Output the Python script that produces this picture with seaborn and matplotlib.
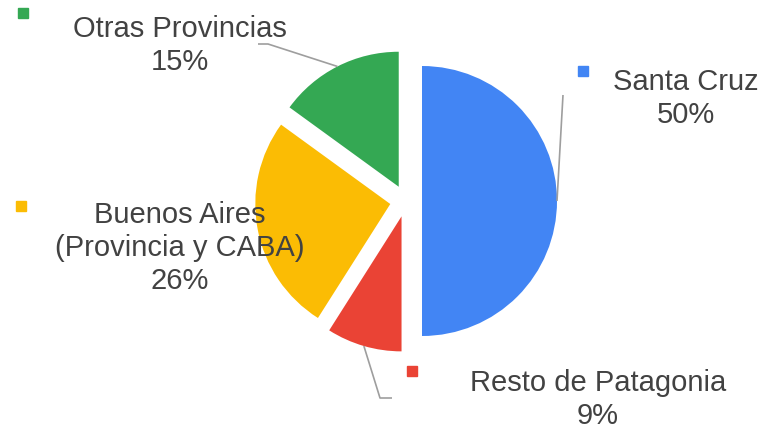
import numpy as np
import matplotlib
matplotlib.use("Agg")
import matplotlib.pyplot as plt
import seaborn as sns

# ---- data ----
categories = ["Santa Cruz", "Resto de Patagonia", "Buenos Aires\n(Provincia y CABA)", "Otras Provincias"]
values = [50, 9, 26, 15]
pct_labels = ["50%", "9%", "26%", "15%"]
colors = ["#4285F4", "#EA4335", "#FBBC04", "#34A853"]

sns.set_theme(style="white")
plt.rcParams["font.family"] = ["Liberation Sans", "DejaVu Sans"]

W, H = 766, 429
fig = plt.figure(figsize=(W / 100, H / 100), dpi=100)
ax = fig.add_axes([0, 0, 1, 1])

def Y(y):  # screen y (down) -> data y (up)
    return H - y

R = 135
GAP = 16
CX, CY = 406, Y(201)
wedges, _ = ax.pie(values, colors=colors, startangle=90, counterclock=False,
                   explode=[GAP] * len(values), radius=R, center=(CX, CY),
                   wedgeprops=dict(linewidth=0), frame=False)
ax.set_xlim(0, W)
ax.set_ylim(0, H)
ax.set_aspect("equal")
ax.axis("off")

txt_color = "#424242"
line_color = "#9E9E9E"
fs = 21

# label layout: (square, text center x / top y, leader elbow points)
layout = {
    0: dict(sq=(583, 71), txt=(686, 68), elbow=[(563, 95)]),
    1: dict(sq=(412, 371), txt=(598, 369), elbow=[(380, 398), (392, 398)]),
    2: dict(sq=(21, 206), txt=(180, 201), elbow=None),
    3: dict(sq=(23, 13), txt=(180, 15), elbow=[(268, 44), (258, 44)]),
}

for i, w in enumerate(wedges):
    L = layout[i]
    if L["elbow"]:
        mid = np.deg2rad((w.theta1 + w.theta2) / 2)
        cx, cy = w.center
        ax0 = cx + w.r * np.cos(mid)
        ay0 = cy + w.r * np.sin(mid)
        xs = [ax0] + [p[0] for p in L["elbow"]]
        ys = [ay0] + [Y(p[1]) for p in L["elbow"]]
        ax.plot(xs, ys, color=line_color, lw=1.2, solid_capstyle="butt")
    sx, sy = L["sq"]
    ax.plot([sx], [Y(sy)], marker="s", markersize=7.8, color=colors[i], lw=0)
    tx, ty = L["txt"]
    ax.text(tx, Y(ty), categories[i] + "\n" + pct_labels[i], ha="center", va="top",
            fontsize=fs, color=txt_color, linespacing=1.22, multialignment="center")

fig.savefig("out.png", dpi=100)
